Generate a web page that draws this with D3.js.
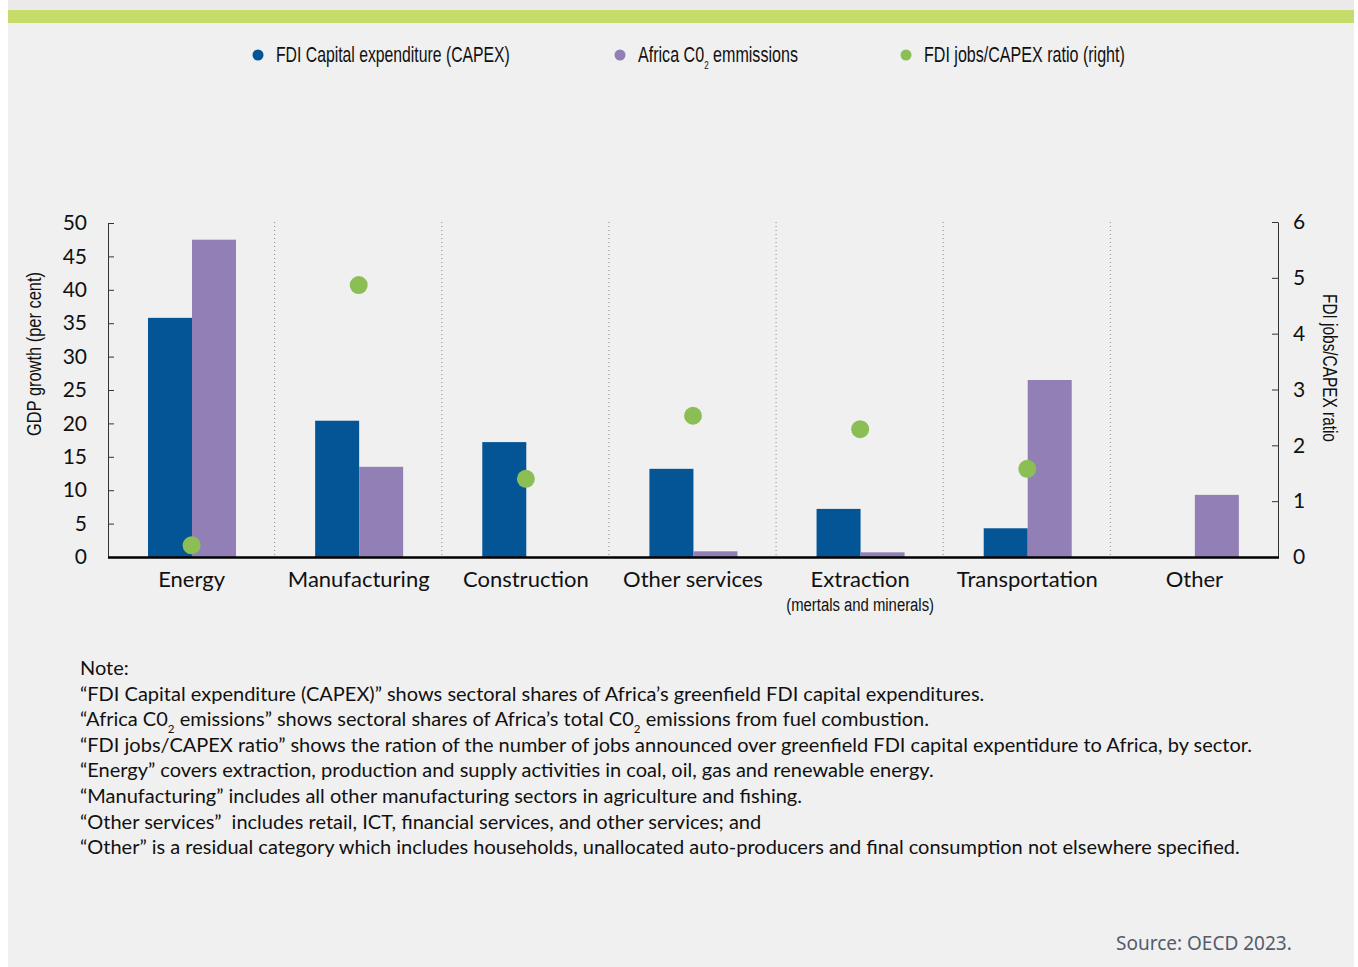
<!DOCTYPE html>
<html>
<head>
<meta charset="utf-8">
<script src="https://cdn.jsdelivr.net/npm/d3@7"></script>
<style>
  body { margin: 0; background: #fff; }
  svg { display: block; }
  .cond { font-family: "Liberation Sans", Arial, sans-serif; }
  .reg { font-family: Lato, "Open Sans", sans-serif; }
</style>
</head>
<body>
<svg width="1358" height="967"></svg>
<script>
;(function (d3) {
  var svg = d3.select('svg')

  var categories = ['Energy', 'Manufacturing', 'Construction', 'Other services', 'Extraction', 'Transportation', 'Other']
  var capex = [35.8, 20.4, 17.2, 13.2, 7.2, 4.3, 0]
  var co2 = [47.5, 13.5, 0, 0.85, 0.7, 26.5, 9.3]
  var ratio = [0.21, 4.87, 1.4, 2.53, 2.29, 1.58, null]
  var leftTicks = [0, 5, 10, 15, 20, 25, 30, 35, 40, 45, 50]
  var rightTicks = [0, 1, 2, 3, 4, 5, 6]
  var notes = [
    'Note:',
    '\u201cFDI Capital expenditure (CAPEX)\u201d shows sectoral shares of Africa\u2019s greenfield FDI capital expenditures.',
    ['\u201cAfrica C0', '2', ' emissions\u201d shows sectoral shares of Africa\u2019s total C0', '2', ' emissions from fuel combustion.'],
    '\u201cFDI jobs/CAPEX ratio\u201d shows the ration of the number of jobs announced over greenfield FDI capital expentidure to Africa, by sector.',
    '\u201cEnergy\u201d covers extraction, production and supply activities in coal, oil, gas and renewable energy.',
    '\u201cManufacturing\u201d includes all other manufacturing sectors in agriculture and fishing.',
    '\u201cOther services\u201d  includes retail, ICT, financial services, and other services; and',
    '\u201cOther\u201d is a residual category which includes households, unallocated auto-producers and final consumption not elsewhere specified.'
  ]

  var blue = '#045595'
  var purple = '#917fb6'
  var green = '#8bbf56'

  // squeeze a text horizontally (around its x) so it takes the width seen in the picture
  function condense (t, width, x0, pre) {
    var w = t.node().getComputedTextLength()
    var k = width / w
    t.attr('transform', (pre || '') + 'translate(' + x0 + ',0) scale(' + k + ',1) translate(' + (-x0) + ',0)')
  }

  // background panel + top band
  svg.append('rect').attr('x', 8).attr('y', 0).attr('width', 1346).attr('height', 967).attr('fill', '#f0f0f0')
  svg.append('rect').attr('x', 8).attr('y', 0).attr('width', 1346).attr('height', 10).attr('fill', '#ebe9ea')
  svg.append('rect').attr('x', 8).attr('y', 10).attr('width', 1346).attr('height', 13).attr('fill', '#c5dc6a')

  var x = d3.scaleBand().domain(categories).range([108, 1278])
  var x1 = d3.scaleBand().domain(['capex', 'co2']).range([40, 128])
  var y = d3.scaleLinear().domain([0, 50]).range([557, 223])
  var y2 = d3.scaleLinear().domain([0, 6]).range([557, 222])

  // dotted separators
  svg.append('g').selectAll('line')
    .data(categories.slice(1))
    .enter()
    .append('line')
    .attr('x1', function (d) { return x(d) - 0.5 })
    .attr('x2', function (d) { return x(d) - 0.5 })
    .attr('y1', 222)
    .attr('y2', 557)
    .style('stroke', '#8a8a8a')
    .style('stroke-width', 1)
    .style('stroke-dasharray', '1,3')

  // bars
  var groups = svg.append('g').selectAll('g')
    .data(categories)
    .enter()
    .append('g')
    .attr('transform', function (d) { return 'translate(' + x(d) + ',0)' })

  groups.append('rect')
    .attr('x', x1('capex'))
    .attr('width', x1.bandwidth())
    .attr('y', function (d, i) { return y(capex[i]) })
    .attr('height', function (d, i) { return y(0) - y(capex[i]) })
    .attr('fill', blue)

  groups.append('rect')
    .attr('x', x1('co2'))
    .attr('width', x1.bandwidth())
    .attr('y', function (d, i) { return y(co2[i]) })
    .attr('height', function (d, i) { return y(0) - y(co2[i]) })
    .attr('fill', purple)

  // axes
  var left = svg.append('g')
    .attr('transform', 'translate(108,0)')
    .call(d3.axisLeft(y).tickValues(leftTicks).tickSizeInner(-6).tickSizeOuter(0).tickPadding(21))
  var right = svg.append('g')
    .attr('transform', 'translate(1278,0)')
    .call(d3.axisRight(y2).tickValues(rightTicks).tickFormat(d3.format('d')).tickSizeInner(-6).tickSizeOuter(0).tickPadding(15))

  ;[left, right].forEach(function (g) {
    g.select('.domain').style('stroke', '#333')
    g.selectAll('.tick line').style('stroke', '#333')
    g.selectAll('.tick text')
      .attr('class', 'reg')
      .style('font-size', '21px')
      .style('fill', '#111')
  })

  svg.append('line')
    .attr('x1', 108).attr('x2', 1279)
    .attr('y1', 557.5).attr('y2', 557.5)
    .style('stroke', '#000')
    .style('stroke-width', 2.5)

  // ratio dots
  svg.append('g').selectAll('circle')
    .data(categories.filter(function (d, i) { return ratio[i] !== null }))
    .enter()
    .append('circle')
    .attr('cx', function (d) { return x(d) + x.bandwidth() / 2 })
    .attr('cy', function (d) { return y2(ratio[categories.indexOf(d)]) })
    .attr('r', 9)
    .attr('fill', green)

  // category labels
  svg.append('g').selectAll('text')
    .data(categories)
    .enter()
    .append('text')
    .attr('class', 'reg')
    .attr('x', function (d) { return x(d) + x.bandwidth() / 2 })
    .attr('y', 587)
    .attr('text-anchor', 'middle')
    .style('font-size', '22px')
    .style('fill', '#111')
    .text(function (d) { return d })

  var cx = x('Extraction') + x.bandwidth() / 2
  var sub = svg.append('text')
    .attr('class', 'cond')
    .attr('x', cx)
    .attr('y', 611)
    .attr('text-anchor', 'middle')
    .style('font-size', '19px')
    .style('fill', '#111')
    .text('(mertals and minerals)')
  condense(sub, 148, cx)

  // axis titles
  var lt = svg.append('text')
    .attr('class', 'cond')
    .attr('x', 0).attr('y', 0)
    .attr('text-anchor', 'middle')
    .style('font-size', '20px')
    .style('fill', '#111')
    .text('GDP growth (per cent)')
  condense(lt, 164, 0, 'translate(41,354) rotate(-90) ')

  var rt = svg.append('text')
    .attr('class', 'cond')
    .attr('x', 0).attr('y', 0)
    .attr('text-anchor', 'middle')
    .style('font-size', '20px')
    .style('fill', '#111')
    .text('FDI jobs/CAPEX ratio')
  condense(rt, 148, 0, 'translate(1323,368) rotate(90) ')

  // legend
  var legend = [
    {cx: 258, color: blue, w: 234, parts: ['FDI Capital expenditure (CAPEX)']},
    {cx: 620, color: purple, w: 160, parts: ['Africa C0', '2', ' emmissions']},
    {cx: 906, color: green, w: 201, parts: ['FDI jobs/CAPEX ratio (right)']}
  ]

  function addParts (t, parts, size) {
    parts.forEach(function (p, i) {
      var ts = t.append('tspan').text(p)
      if (i % 2 === 1) {
        ts.style('font-size', size + 'px').attr('dy', size * 0.6)
      } else if (i > 0) {
        ts.attr('dy', -size * 0.6)
      }
    })
  }

  legend.forEach(function (l) {
    svg.append('circle').attr('cx', l.cx).attr('cy', 55).attr('r', 5.5).attr('fill', l.color)
    var t = svg.append('text')
      .attr('class', 'cond')
      .attr('x', l.cx + 18)
      .attr('y', 62)
      .style('font-size', '22px')
      .style('fill', '#111')
    addParts(t, l.parts, 11)
    condense(t, l.w, l.cx + 18)
  })

  // notes
  var ng = svg.append('g').attr('class', 'reg')
  notes.forEach(function (n, i) {
    var t = ng.append('text')
      .attr('x', 80)
      .attr('y', 675 + i * 25.6)
      .style('font-size', '19px')
      .style('white-space', 'pre')
      .style('fill', '#111')
    addParts(t, typeof n === 'string' ? [n] : n, 11)
  })
  // fit the longest line to its width in the picture
  var longest = ng.selectAll('text').nodes()[3]
  var k = 1173 / longest.getComputedTextLength()
  ng.attr('transform', 'translate(' + (80 - 80 * k) + ',0) scale(' + k + ',1)')

  svg.append('text')
    .attr('x', 1116)
    .attr('y', 950)
    .style('font-family', '"Noto Sans", sans-serif')
    .style('font-size', '19px')
    .style('fill', '#555b6b')
    .text('Source: OECD 2023.')
})(window.d3)
</script>
</body>
</html>
